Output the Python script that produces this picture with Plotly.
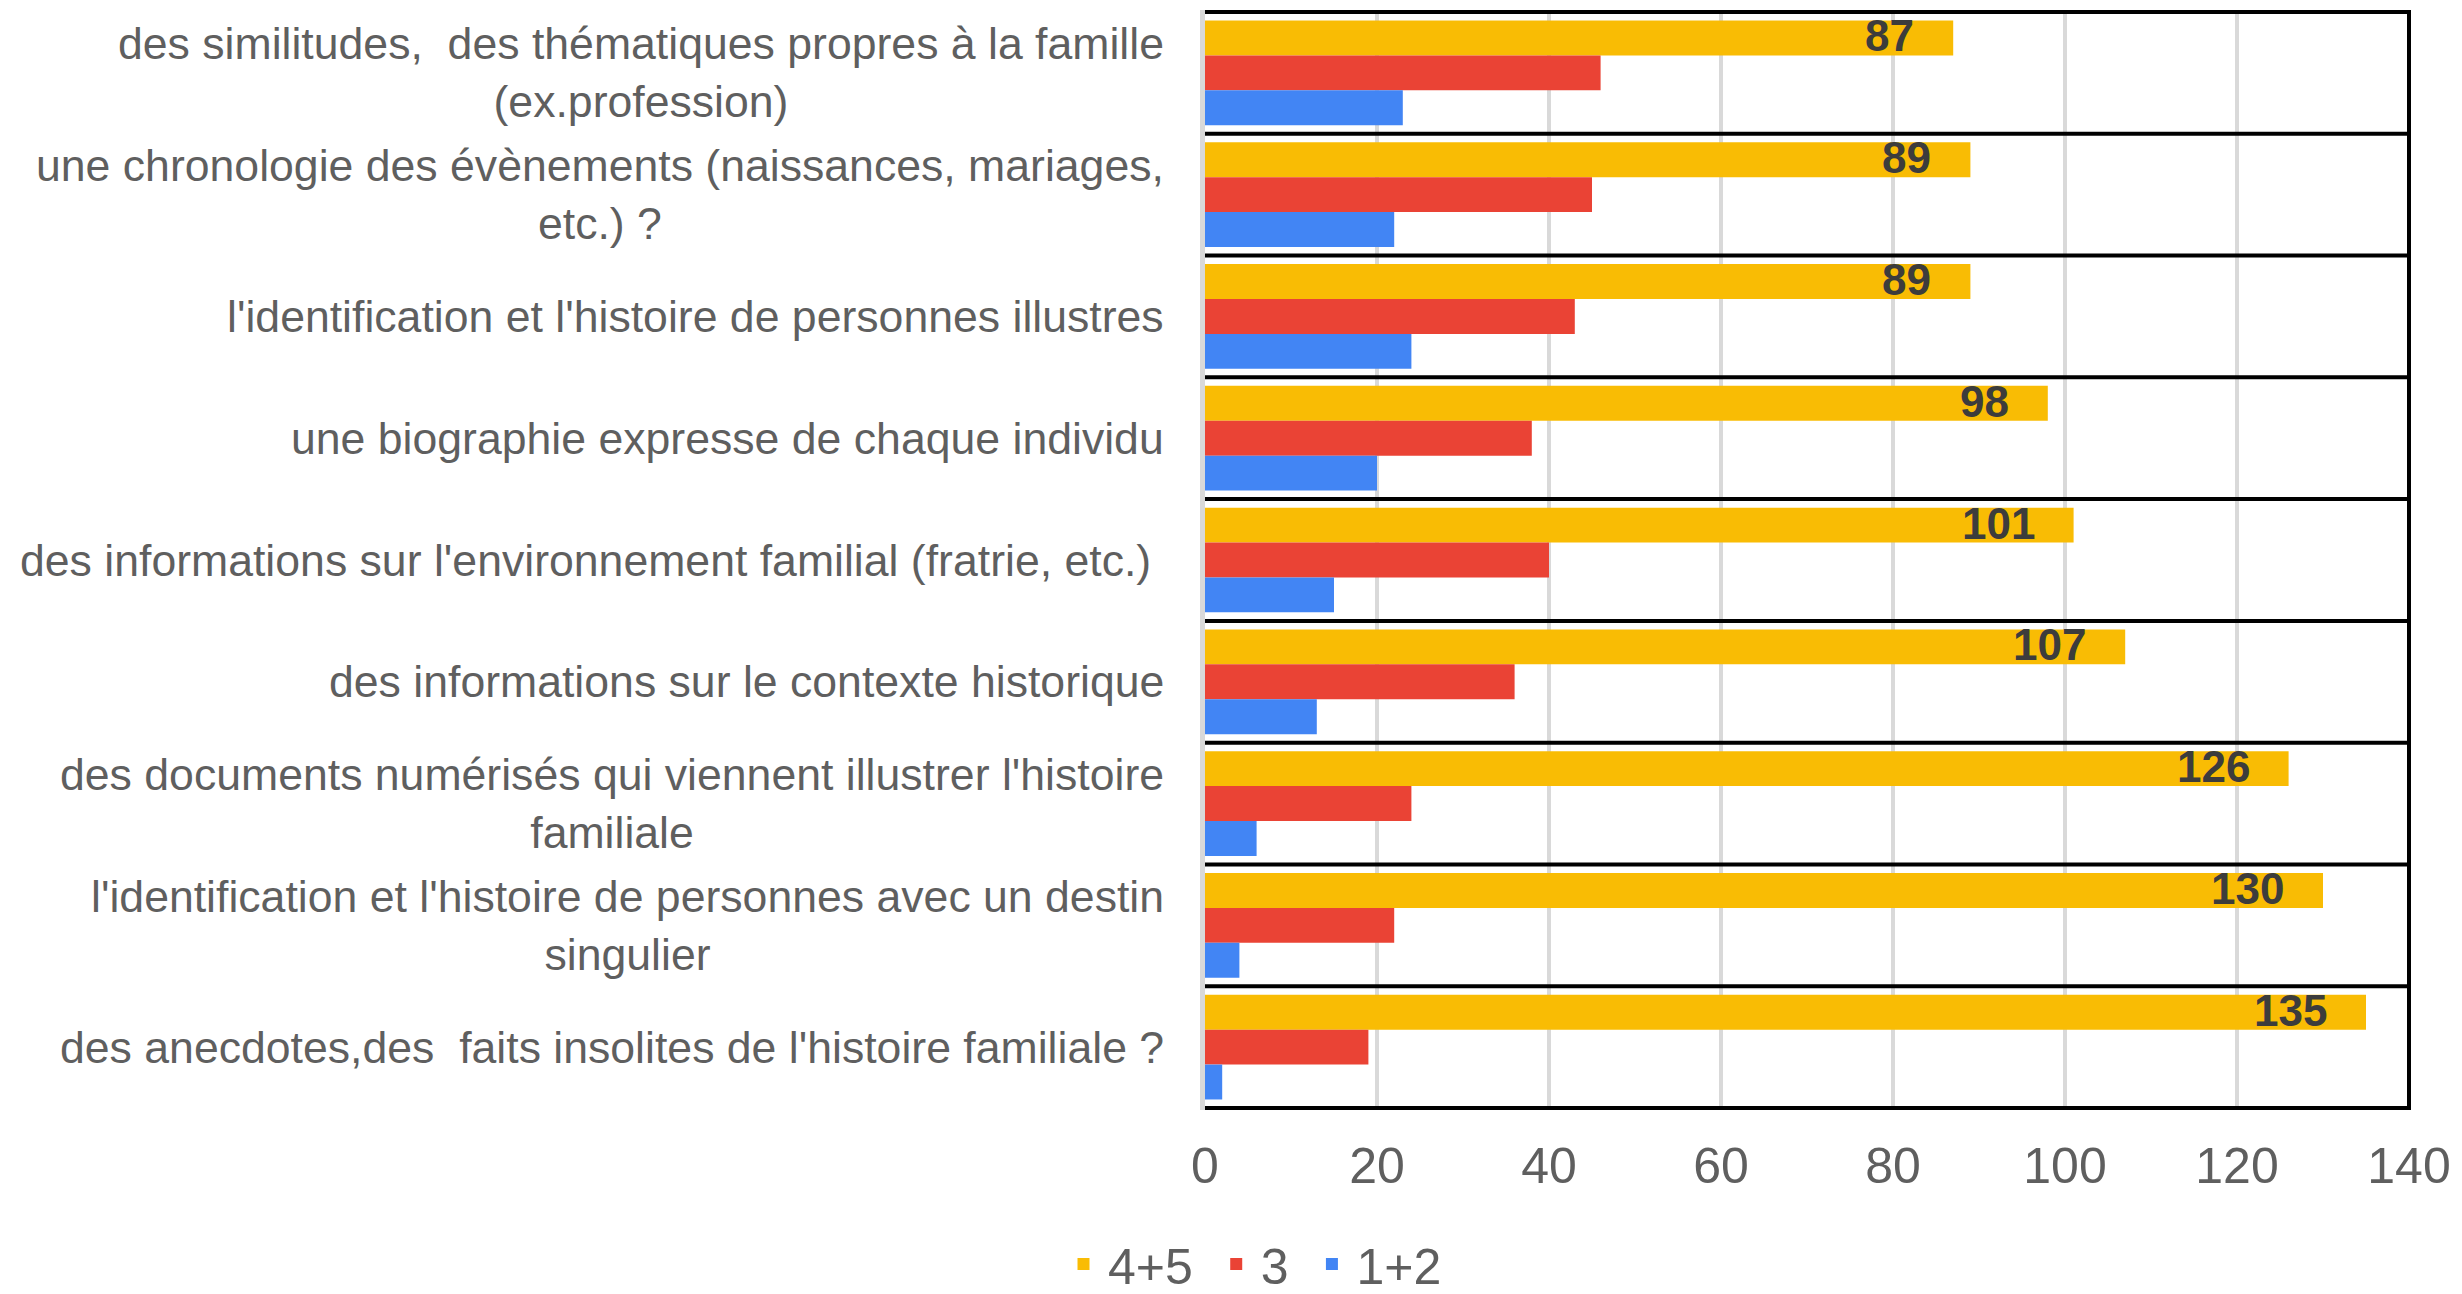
import plotly.graph_objects as go

categories = [
    "des similitudes,\u00a0 des thématiques propres à la famille<br>(ex.profession)",
    "une chronologie des évènements (naissances, mariages,<br>etc.) ?",
    "l'identification et l'histoire de personnes illustres",
    "une biographie expresse de chaque individu",
    "des informations sur l'environnement familial (fratrie, etc.)\u00a0",
    "des informations sur le contexte historique",
    "des documents numérisés qui viennent illustrer l'histoire<br>familiale",
    "l'identification et l'histoire de personnes avec un destin<br>singulier",
    "des anecdotes,des\u00a0 faits insolites de l'histoire familiale ?",
]
series_names = ["4+5", "3", "1+2"]
v_45 = [87, 89, 89, 98, 101, 107, 126, 130, 135]
v_3 = [46, 45, 43, 38, 40, 36, 24, 22, 19]
v_12 = [23, 22, 24, 20, 15, 13, 6, 4, 2]
colors = ["#F9BC04", "#EA4335", "#4285F4"]
x_ticks = [0, 20, 40, 60, 80, 100, 120, 140]

BARGAP = 0.14
TEXT_GRAY = "#5f5f5f"
FONT = "Arial, Liberation Sans, sans-serif"

fig = go.Figure()
for name, vals, col in zip(series_names, [v_45, v_3, v_12], colors):
    fig.add_trace(go.Bar(
        x=vals, y=categories, orientation="h", name=name + "\u00a0",
        marker=dict(color=col, line=dict(width=0)),
        hoverinfo="skip",
    ))

ex = 2 / 121.8
xmax = x_ticks[-1]
xe = 2 / 8.6

annotations = []
# category labels (centered lines, right-anchored block)
for i, cat in enumerate(categories):
    annotations.append(dict(
        x=0, xref="paper", y=i, yref="y", text=cat, showarrow=False,
        xanchor="right", yanchor="middle", align="center", xshift=-39,
        font=dict(family=FONT, size=44.6, color=TEXT_GRAY),
    ))
# data labels on the 4+5 series
bw = (1 - BARGAP) / 3
for i, v in enumerate(v_45):
    annotations.append(dict(
        x=v, xref="x", y=i - bw, yref="y", text=str(v), showarrow=False,
        xanchor="right", yanchor="middle", xshift=-37, yshift=2,
        font=dict(family=FONT, size=44, color="#3c3c3c", weight="bold"),
    ))

shapes = []
n = len(categories)
for k in range(n + 1):
    shapes.append(dict(
        type="line", xref="x", yref="y", x0=0, x1=xmax + xe,
        y0=k - 0.5, y1=k - 0.5, line=dict(color="black", width=4), layer="above",
    ))
shapes.append(dict(
    type="line", xref="x", yref="y", x0=xmax, x1=xmax,
    y0=-0.5 - ex, y1=n - 0.5 + ex, line=dict(color="black", width=4), layer="above",
))

fig.update_layout(
    width=2462, height=1294,
    margin=dict(l=1205, r=51, t=10, b=184, pad=0),
    paper_bgcolor="white", plot_bgcolor="white",
    barmode="group", bargap=BARGAP, bargroupgap=0,
    font=dict(family=FONT, color=TEXT_GRAY),
    showlegend=True,
    legend=dict(
        orientation="h", xref="container", yref="container",
        x=1059 / 2462, xanchor="left", y=1 - 1264 / 1294, yanchor="middle",
        itemwidth=39,
        font=dict(family=FONT, size=50, color=TEXT_GRAY),
        traceorder="normal", itemclick=False, itemdoubleclick=False,
    ),
    xaxis=dict(
        range=[0, xmax + xe], tickvals=x_ticks, ticktext=[str(t) for t in x_ticks],
        showgrid=True, gridcolor="#d9d9d9", gridwidth=3.5,
        zeroline=False, showline=False, ticks="",
        tickfont=dict(family=FONT, size=50, color=TEXT_GRAY),
        ticklabelstandoff=22, fixedrange=True,
    ),
    yaxis=dict(
        type="category", range=[n - 0.5 + ex, -0.5 - ex],
        showticklabels=False, showgrid=False, zeroline=False,
        showline=True, linecolor="#d9d9d9", linewidth=5, ticks="", fixedrange=True,
    ),
    annotations=annotations, shapes=shapes,
)

fig.write_html(
    "out.html",
    config={"displayModeBar": False},
    post_script="document.body.style.margin='0px';",
)
